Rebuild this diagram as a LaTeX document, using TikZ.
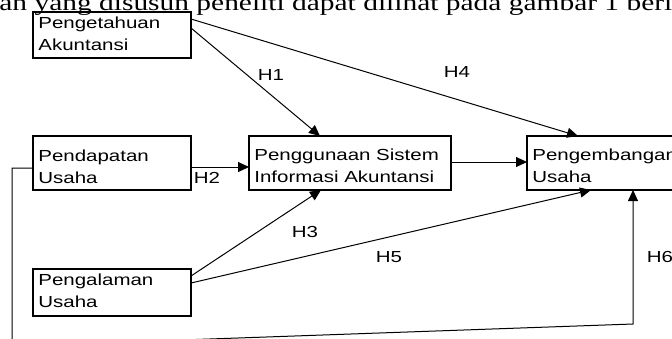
\documentclass[tikz,border=0pt]{standalone}
\usepackage{fontspec}
\usetikzlibrary{arrows.meta,calc}
\newfontfamily\boxfont[FakeStretch=1.28]{Liberation Sans}
\newfontfamily\topfont[FakeStretch=1.28]{Liberation Serif}
\newcommand\twoline[2]{\begin{tabular}[t]{@{}l@{}}#1\\#2\end{tabular}}
\begin{document}
\begin{tikzpicture}[x=0.5pt,y=-0.5pt,
  box/.style={draw, line width=0.85pt, inner sep=0pt, outer sep=0pt, anchor=north west},
  lbl/.style={font=\boxfont\fontsize{8}{11}\selectfont, inner sep=0pt, anchor=base west},
  hyp/.style={font=\boxfont\fontsize{8}{11}\selectfont, inner sep=0pt},
  conn/.style={line width=0.5pt, -{Triangle[length=5.5pt,width=5pt]}}]
\useasboundingbox (0,0) rectangle (672,338);
\clip (0,0) rectangle (672,338);
\node[anchor=base west, inner sep=0pt, font=\topfont\fontsize{11.5}{14}\selectfont] (top) at (-1,10) {an yang disusun peneliti dapat dilihat pada gambar 1 beri};

\node[box, minimum width=79pt, minimum height=23pt] (b1) at (33,12) {};
\node[box, minimum width=79pt, minimum height=27pt] (b2) at (33,136) {};
\node[box, minimum width=101pt, minimum height=27pt] (b3) at (249,136) {};
\node[box, minimum width=90pt, minimum height=27pt] (b4) at (527,136) {};
\node[box, minimum width=79pt, minimum height=23.5pt] (b5) at (33,269) {};

\node[lbl] (t1) at (38,28.3) {\twoline{Pengetahuan}{Akuntansi}};
\node[lbl] (t2) at (38,161.7) {\twoline{Pendapatan}{Usaha}};
\node[lbl] (t3) at (254,160.7) {\twoline{Penggunaan Sistem}{Informasi Akuntansi}};
\node[lbl] (t4) at (532,160.5) {\twoline{Pengembangan}{Usaha}};
\node[lbl] (t5) at (38,285) {\twoline{Pengalaman}{Usaha}};

\node[hyp] (h1) at (271,75) {H1};
\node[hyp] (h4) at (457,72) {H4};
\node[hyp] (h2) at (207,177.5) {H2};
\node[hyp] (h3) at (305,231.5) {H3};
\node[hyp] (h5) at (389,257) {H5};
\node[hyp] (h6) at (660,257) {H6};

\draw[conn] ($(b1.north east)+(0,16)$) -- ($(b3.north west)+(71,0)$);
\draw[conn] ($(b1.north east)+(0,7)$) -- ($(b4.north west)+(51,0)$);
\draw[conn] ($(b2.north east)+(0,31)$) -- ($(b3.north west)+(0,31)$);
\draw[conn] ($(b3.north east)+(0,26)$) -- ($(b4.north west)+(0,26)$);
\draw[conn] ($(b5.north east)+(0,7)$) -- ($(b3.south west)+(72,0)$);
\draw[conn] ($(b5.north east)+(0,14)$) -- ($(b4.south west)+(64,0)$);
\coordinate (c1) at (12,168);
\coordinate (c2) at (12,346);
\coordinate (c3) at (633,324);
\draw[conn] ($(b2.north west)+(0,32)$) -- (c1) -- (c2) -- (c3) -- (b4.south west -| c3);
\end{tikzpicture}
\end{document}
